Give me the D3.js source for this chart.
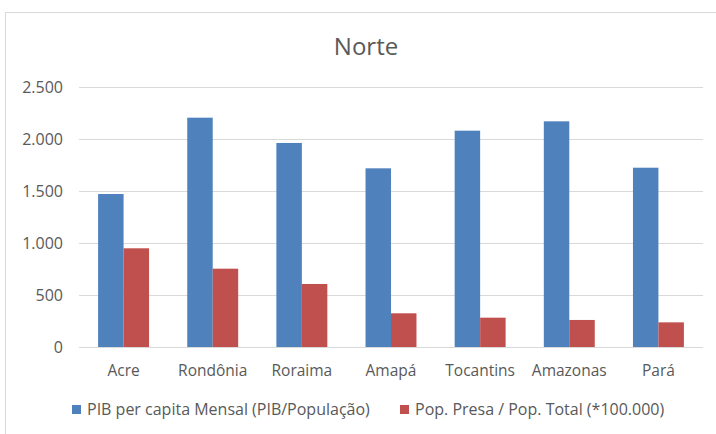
<!DOCTYPE html>
<html>
<head>
<meta charset="utf-8">
<script src="https://cdn.jsdelivr.net/npm/d3@7"></script>
<style>
  body { margin: 0; background: #fff; }
  svg { font-family: "Open Sans", "Noto Sans", sans-serif; }
</style>
</head>
<body>
<svg id="chart"></svg>
<script>
// dados
const estados = ["Acre", "Rondônia", "Roraima", "Amapá", "Tocantins", "Amazonas", "Pará"];
const pibPerCapita = [1471, 2205, 1962, 1718, 2080, 2170, 1724];
const popPresa = [949, 753, 606, 324, 282, 260, 237];
const series = ["PIB per capita Mensal (PIB/População)", "Pop. Presa / Pop. Total (*100.000)"];
const yTicks = [0, 500, 1000, 1500, 2000, 2500];

const width = 716, height = 434;
const margin = {top: 87, right: 13, bottom: 87, left: 79};
const colors = ["#4F81BD", "#C0504D"];
const textColor = "#595959";

const svg = d3.select("#chart").attr("width", width).attr("height", height);

// moldura do gráfico
svg.append("rect")
  .attr("x", 5.5).attr("y", 12.5)
  .attr("width", 720).attr("height", 440)
  .attr("fill", "none").attr("stroke", "#D9D9D9");

// título
svg.append("text")
  .attr("x", 366).attr("y", 55)
  .attr("text-anchor", "middle")
  .attr("fill", textColor)
  .style("font-size", "24px")
  .text("Norte");

const x = d3.scaleBand().domain(estados)
  .range([margin.left, width - margin.right]);
const x1 = d3.scaleBand().domain([0, 1])
  .range([0, x.bandwidth()]).paddingOuter(0.75);
const y = d3.scaleLinear().domain([0, 2500])
  .range([height - margin.bottom, margin.top]);

const fmt = d => d3.format(",")(d).replace(/,/g, ".");

// linhas de grade
svg.append("g").selectAll("line").data(yTicks).enter()
  .append("line")
  .attr("x1", margin.left).attr("x2", width - margin.right)
  .attr("y1", d => Math.round(y(d)) + 0.5).attr("y2", d => Math.round(y(d)) + 0.5)
  .attr("stroke", "#D9D9D9");

// rótulos do eixo y
svg.append("g").selectAll("text").data(yTicks).enter()
  .append("text")
  .attr("x", 63).attr("y", d => y(d))
  .attr("dy", "0.35em")
  .attr("text-anchor", "end")
  .attr("fill", textColor)
  .style("font-size", "16px")
  .text(fmt);

// barras
const groups = svg.append("g").selectAll("g").data(estados).enter()
  .append("g")
  .attr("transform", d => `translate(${x(d)},0)`);

groups.selectAll("rect")
  .data((d, i) => [pibPerCapita[i], popPresa[i]].map((v, k) => ({k, v})))
  .enter().append("rect")
  .attr("x", d => x1(d.k))
  .attr("width", x1.bandwidth())
  .attr("y", d => y(d.v))
  .attr("height", d => y(0) - y(d.v))
  .attr("fill", d => colors[d.k]);

// rótulos do eixo x
svg.append("g").selectAll("text").data(estados).enter()
  .append("text")
  .attr("x", d => x(d) + x.bandwidth() / 2)
  .attr("y", 371)
  .attr("dy", "0.35em")
  .attr("text-anchor", "middle")
  .attr("fill", textColor)
  .style("font-size", "15.5px")
  .text(d => d);

// legenda
const legendX = [72, 400];
const legend = svg.append("g").selectAll("g").data(series).enter()
  .append("g")
  .attr("transform", (d, i) => `translate(${legendX[i]},405)`);
legend.append("rect")
  .attr("width", 9).attr("height", 9)
  .attr("fill", (d, i) => colors[i]);
legend.append("text")
  .attr("x", 15).attr("y", 4.5)
  .attr("dy", "0.35em")
  .attr("fill", textColor)
  .style("font-size", "16px")
  .text(d => d);
</script>
</body>
</html>
